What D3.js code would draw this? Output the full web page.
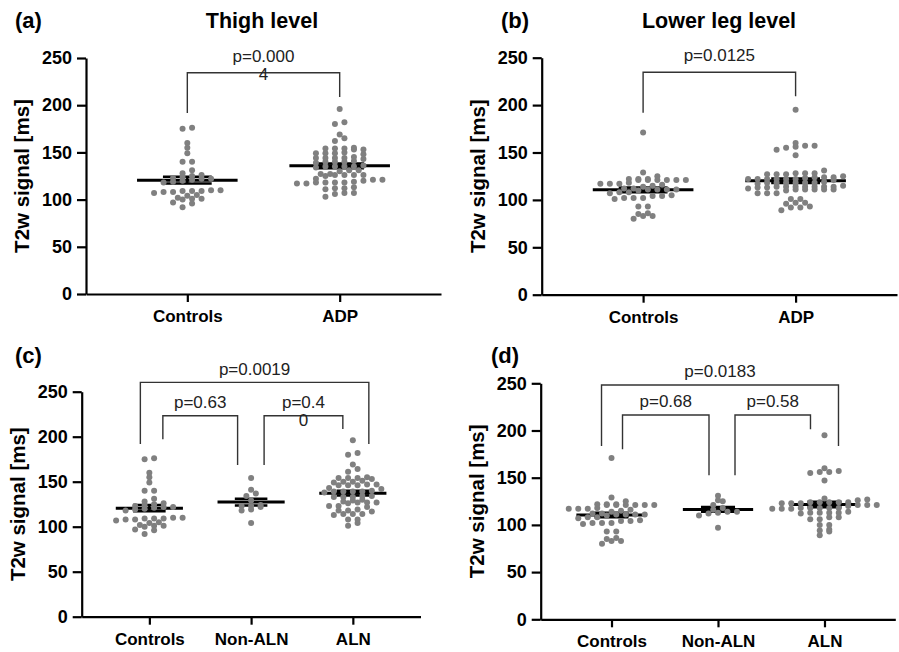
<!DOCTYPE html>
<html>
<head>
<meta charset="utf-8">
<script src="https://cdn.jsdelivr.net/npm/d3@7"></script>
<style>
  body { margin: 0; background: #fff; }
  svg { display: block; font-family: "Liberation Sans", Arial, sans-serif; }
</style>
</head>
<body>
<svg id="chart" width="899" height="652"></svg>
<script>
// values (T2w signal, ms)
var thighControls = [176, 175, 160, 155, 149, 140, 140, 131, 128, 126, 125, 124, 123, 122, 122, 121, 120, 119, 118,
  110, 110, 109, 109, 109, 108, 108, 107, 105, 104, 102, 101, 101, 100, 97, 96, 92];
var thighADP = [196, 182, 180, 169, 165, 162, 154, 154, 153, 155, 154, 153, 149, 149, 150, 148, 149,
  144, 144, 145, 143, 144, 144, 140, 140, 141, 139, 140, 135, 135, 136, 134, 135, 135, 131, 131, 130,
  126, 126, 127, 125, 126, 126, 127, 121, 121, 122, 120, 118, 118, 117, 118, 119, 117, 118,
  112, 112, 113, 111, 107, 107, 106, 103];
var legControls = [171, 129, 125, 122, 122, 121, 121, 121, 121, 122, 121, 121, 117, 117, 116, 117, 118, 115, 114,
  112, 111, 111, 111, 112, 111, 110, 108, 108, 107, 104, 104, 105, 102, 102, 101, 102, 93, 93, 86, 85, 83, 83, 80];
var legADP = [195, 160, 157, 157, 156, 155, 153, 147, 131, 128, 128, 127, 127, 128, 127, 124, 124, 125, 124,
  122, 122, 122, 123, 122, 122, 121, 122, 118, 118, 119, 118, 118, 117, 118, 118,
  114, 114, 114, 113, 114, 115, 114, 113, 114, 114, 111, 111, 110, 111, 111, 112, 111,
  107, 107, 107, 101, 101, 97, 97, 96, 92, 93, 92, 89];
var thighNonALN = [154, 141, 137, 134, 129, 124, 123, 123, 122, 119, 118, 104];
var thighALN = [196, 182, 180, 169, 164, 161, 154, 154, 153, 154, 155, 150, 150, 151, 149, 146, 147, 146, 146, 147,
  143, 142, 139, 139, 138, 139, 140, 139, 133, 134, 133, 133, 134, 130, 129, 127, 127, 126, 127, 128,
  123, 122, 123, 118, 118, 117, 119, 114, 114, 113, 114, 108, 108, 104, 101];
var legNonALN = [131, 126, 125, 121, 118, 116, 114, 114, 113, 112, 110, 97];
var legALN = [195, 160, 157, 156, 156, 155, 147, 128, 127, 126, 124, 124, 123, 124, 123, 124, 123, 124,
  121, 121, 121, 120, 118, 118, 117, 118, 117, 118, 117, 118, 113, 113, 114, 113, 112, 113,
  108, 108, 106, 106, 100, 100, 95, 94, 93, 89];

var catsTwo = ["Controls", "ADP"];
var catsThree = ["Controls", "Non-ALN", "ALN"];
var yTicks = [0, 50, 100, 150, 200, 250];
var yTitle = "T2w signal [ms]";

// panel layout
var panels = [
  { letter: "(a)", title: "Thigh level", cats: catsTwo, groups: [thighControls, thighADP],
    x0: 86, x1: 441, yTop: 58, yBot: 294, letterX: 15, letterY: 28, titleX: 262, gap: 11,
    brackets: [{ from: 0, to: 1, dx: [0, 0], top: 234.4, ends: [191.7, 208.7], label: ["p=0.000", "4"] }] },
  { letter: "(b)", title: "Lower leg level", cats: catsTwo, groups: [legControls, legADP],
    x0: 541.7, x1: 897, yTop: 57.7, yBot: 294.7, letterX: 501, letterY: 28, titleX: 719, gap: 11,
    brackets: [{ from: 0, to: 1, dx: [0, 0], top: 234.7, ends: [191.8, 209.3], label: ["p=0.0125"] }] },
  { letter: "(c)", title: "", cats: catsThree, groups: [thighControls, thighNonALN, thighALN],
    x0: 81.7, x1: 420.5, yTop: 391.7, yBot: 616.7, letterX: 15, letterY: 362.7, titleX: 0, gap: 7.5,
    brackets: [
      { from: 0, to: 2, dx: [-9, 16], top: 260.4, ends: [191.9, 191.9], label: ["p=0.0019"] },
      { from: 0, to: 1, dx: [13.5, -13.5], top: 223.3, ends: [197.1, 168.6], label: ["p=0.63"] },
      { from: 1, to: 2, dx: [13, -10], top: 223.3, ends: [168.6, 208.6], label: ["p=0.4", "0"] }] },
  { letter: "(d)", title: "", cats: catsThree, groups: [legControls, legNonALN, legALN],
    x0: 540.7, x1: 895.3, yTop: 383.3, yBot: 619.3, letterX: 491, letterY: 363, titleX: 0, gap: 8,
    brackets: [
      { from: 0, to: 2, dx: [-10, 14], top: 248.2, ends: [183.6, 183.6], label: ["p=0.0183"] },
      { from: 0, to: 1, dx: [11, -9], top: 216.4, ends: [180.1, 152.5], label: ["p=0.68"] },
      { from: 1, to: 2, dx: [17, -14], top: 216.4, ends: [152.5, 201.3], label: ["p=0.58"] }] }
];

var svg = d3.select("#chart");

// Prism-like scatter: rows of nearby values spread sideways
function swarm(values, cx, y, spacing, rowH) {
  var sorted = values.slice().sort(function(a, b) { return a - b; });
  var rows = [], cur = null;
  sorted.forEach(function(v) {
    var py = y(v);
    if (!cur || cur.start - py > rowH) { cur = { start: py, pts: [] }; rows.push(cur); }
    cur.pts.push(v);
  });
  var out = [];
  rows.forEach(function(r) {
    var n = r.pts.length;
    r.pts.forEach(function(v, i) { out.push({ x: cx + (i - (n - 1) / 2) * spacing, y: y(v) }); });
  });
  return out;
}

panels.forEach(function(p) {
  var g = svg.append("g");
  var x = d3.scalePoint().domain(p.cats).range([p.x0, p.x1]).padding(0.665);
  var y = d3.scaleLinear().domain([0, 250]).range([p.yBot, p.yTop]);
  var step = x.step();

  // panel letter and title
  g.append("text").attr("x", p.letterX).attr("y", p.letterY)
    .style("font-size", "22px").style("font-weight", "bold").text(p.letter);
  if (p.title) {
    g.append("text").attr("x", p.titleX).attr("y", 28).attr("text-anchor", "middle")
      .style("font-size", "21.5px").style("font-weight", "bold").text(p.title);
  }

  // axes
  var yAxis = d3.axisLeft(y).tickValues(yTicks).tickSize(9).tickSizeOuter(0).tickPadding(5);
  var xAxis = d3.axisBottom(x).tickSize(8).tickSizeOuter(0).tickPadding(8);
  var gy = g.append("g").attr("transform", "translate(" + p.x0 + ",0)").call(yAxis);
  var gx = g.append("g").attr("transform", "translate(0," + p.yBot + ")").call(xAxis);
  [gx, gy].forEach(function(a) {
    a.select(".domain").attr("stroke", "#000").attr("stroke-width", 2.2);
    a.selectAll(".tick line").attr("stroke", "#000").attr("stroke-width", 2.2);
    a.selectAll("text").attr("fill", "#000").style("font-weight", "bold")
      .style("font-family", "Liberation Sans, Arial, sans-serif");
  });
  gy.selectAll("text").style("font-size", "18px");
  gx.selectAll("text").style("font-size", "17px");

  g.append("text")
    .attr("transform", "translate(" + (p.x0 - 64) + "," + ((p.yTop + p.yBot) / 2) + ") rotate(-90)")
    .attr("text-anchor", "middle").attr("dy", "0.35em")
    .style("font-size", "20.5px").style("font-weight", "bold").text(yTitle);

  // mean and SEM
  p.groups.forEach(function(vals, i) {
    var cx = x(p.cats[i]);
    var m = d3.mean(vals);
    var sem = d3.deviation(vals) / Math.sqrt(vals.length);
    var capW = 0.16 * step, meanW = 0.33 * step;
    g.append("line").attr("x1", cx).attr("x2", cx).attr("y1", y(m - sem)).attr("y2", y(m + sem))
      .attr("stroke", "#000").attr("stroke-width", 2.5);
    [m - sem, m + sem].forEach(function(v) {
      g.append("line").attr("x1", cx - capW).attr("x2", cx + capW).attr("y1", y(v)).attr("y2", y(v))
        .attr("stroke", "#000").attr("stroke-width", 2.5);
    });
    g.append("line").attr("x1", cx - meanW).attr("x2", cx + meanW).attr("y1", y(m)).attr("y2", y(m))
      .attr("stroke", "#000").attr("stroke-width", 3);
  });

  // dots
  p.groups.forEach(function(vals, i) {
    var pts = swarm(vals, x(p.cats[i]), y, 9.5, 4);
    g.selectAll(null).data(pts).enter().append("circle")
      .attr("cx", function(d) { return d.x; })
      .attr("cy", function(d) { return d.y; })
      .attr("r", 3)
      .attr("fill", "#808080");
  });

  // significance brackets
  p.brackets.forEach(function(b) {
    var xa = x(p.cats[b.from]) + b.dx[0], xb = x(p.cats[b.to]) + b.dx[1];
    var yt = y(b.top);
    g.append("path")
      .attr("d", "M" + xa + "," + y(b.ends[0]) + "V" + yt + "H" + xb + "V" + y(b.ends[1]))
      .attr("fill", "none").attr("stroke", "#333").attr("stroke-width", 1.4);
    b.label.forEach(function(line, k) {
      g.append("text").attr("x", (xa + xb) / 2).attr("y", yt - p.gap + k * 18)
        .attr("text-anchor", "middle").attr("fill", "#222")
        .style("font-size", "17px").text(line);
    });
  });
});
</script>
</body>
</html>
